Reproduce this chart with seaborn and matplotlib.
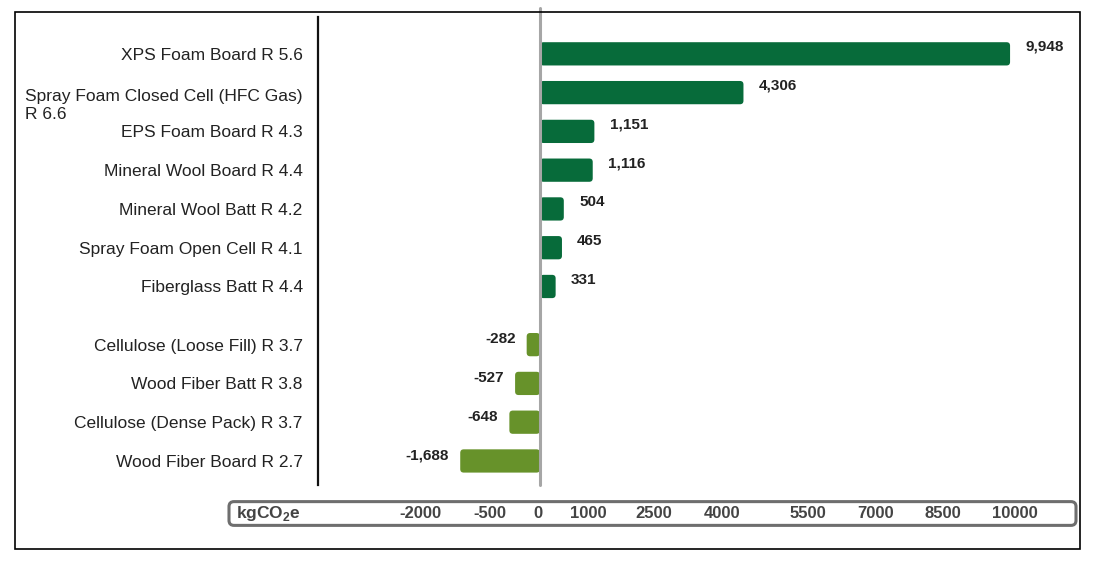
import numpy as np
import pandas as pd
import matplotlib
matplotlib.use("Agg")
import matplotlib.pyplot as plt
import matplotlib.transforms as mtransforms
from matplotlib.patches import Rectangle, FancyBboxPatch
import seaborn as sns

# data
materials = ["XPS Foam Board R 5.6",
             "Spray Foam Closed Cell (HFC Gas)\nR 6.6",
             "EPS Foam Board R 4.3",
             "Mineral Wool Board R 4.4",
             "Mineral Wool Batt R 4.2",
             "Spray Foam Open Cell R 4.1",
             "Fiberglass Batt R 4.4",
             "Cellulose (Loose Fill) R 3.7",
             "Wood Fiber Batt R 3.8",
             "Cellulose (Dense Pack) R 3.7",
             "Wood Fiber Board R 2.7"]
emissions = [9948, 4306, 1151, 1116, 504, 465, 331, -282, -527, -648, -1688]
scale_labels = ["-2000", "-500", "0", "1000", "2500", "4000", "5500", "7000", "8500", "10000"]
unit_label = r"kgCO$_\mathregular{2}$e"

sns.set_style("white")
plt.rcParams["font.family"] = ["Liberation Sans", "DejaVu Sans"]
plt.rcParams["mathtext.fontset"] = "custom"
plt.rcParams["mathtext.rm"] = "Liberation Sans"
plt.rcParams["mathtext.bf"] = "Liberation Sans:bold"

df = pd.DataFrame({"material": materials, "kg": emissions})
df["sign"] = np.where(df["kg"] >= 0, "pos", "neg")
# extra half row of space between the positive and negative groups
df["pos"] = np.arange(len(df)) + np.where(df["kg"] < 0, 0.5, 0.0)

W, H = 1094, 568
fig = plt.figure(figsize=(W / 100, H / 100), dpi=100)
ax = fig.add_axes([318 / W, 1 - 485 / H, (1080 - 318) / W, (485 - 17) / H])

sns.barplot(data=df, x="kg", y="pos", hue="sign", orient="h", native_scale=True,
            palette={"pos": "#076b3a", "neg": "#67922a"}, dodge=False, saturation=1,
            width=0.6, legend=False, ax=ax)

xlim = (-4698, 11428)
ylim = (df["pos"].max() + 0.62, -0.95)
ax.set_xlim(*xlim)
ax.set_ylim(*ylim)

# swap the plain rectangles for rounded ones
ax_w = (1080 - 318)
ax_h = (485 - 17)
ux = (xlim[1] - xlim[0]) / ax_w
uy = abs(ylim[0] - ylim[1]) / ax_h
for p in list(ax.patches):
    x0, y0, w, h = p.get_x(), p.get_y(), p.get_width(), p.get_height()
    if w < 0:
        x0, w = x0 + w, -w
    rb = FancyBboxPatch((x0, y0), w, h, boxstyle=f"round,pad=0,rounding_size={3.5 * ux}",
                        mutation_aspect=uy / ux, fc=p.get_facecolor(), ec="none", zorder=p.get_zorder())
    p.remove()
    ax.add_patch(rb)

ax.axvline(0, color="#a6a6a6", lw=2.2, zorder=5, ymax=1.02, clip_on=False)

ax.set_yticks(df["pos"])
ax.set_yticklabels(df["material"], fontsize=12.5, color="#222222")
ax.tick_params(axis="y", length=0, pad=11)
ax.set_xticks([])
ax.set_xlabel("")
ax.set_ylabel("")
for s in ["top", "right", "bottom"]:
    ax.spines[s].set_visible(False)
ax.spines["left"].set_color("#111111")
ax.spines["left"].set_linewidth(1.6)

lab = ax.get_yticklabels()[1]
lab.set_multialignment("left")
lab.set_transform(lab.get_transform() + mtransforms.ScaledTranslation(0, -10 / 100, fig.dpi_scale_trans))

# value labels
for _, r in df.iterrows():
    txt = f"{r['kg']:,}"
    if r["kg"] >= 0:
        ax.annotate(txt, (r["kg"], r["pos"]), xytext=(11, 5), textcoords="offset points",
                    ha="left", va="center", fontsize=11, fontweight="bold", color="#222222")
    else:
        ax.annotate(txt, (r["kg"], r["pos"]), xytext=(-8, 4), textcoords="offset points",
                    ha="right", va="center", fontsize=11, fontweight="bold", color="#222222")

# outer frame
fig.patches.append(Rectangle((15 / W, 1 - 549 / H), (1080 - 15) / W, (549 - 12) / H,
                             transform=fig.transFigure, fill=False, ec="black", lw=1.2))

# scale box at the bottom
box = fig.add_axes([227 / W, 1 - 527 / H, (1078 - 227) / W, 27 / H])
box.set_xlim(227, 1078)
box.set_ylim(0, 1)
box.axis("off")
box.add_patch(FancyBboxPatch((229, 0.06), 847, 0.88, boxstyle="round,pad=0,rounding_size=5",
                             mutation_aspect=1 / 27, fill=False, ec="#6e6e6e", lw=2.2))
box.text(236, 0.5, unit_label, ha="left", va="center", fontsize=12.5, fontweight="bold", color="#444444")
label_x = [420, 490, 538, 588, 654, 722, 808, 876, 943, 1015]
for x, t in zip(label_x, scale_labels):
    box.text(x, 0.5, t, ha="center", va="center", fontsize=12, fontweight="bold", color="#444444")

fig.savefig("out.png", dpi=100, facecolor="white")
